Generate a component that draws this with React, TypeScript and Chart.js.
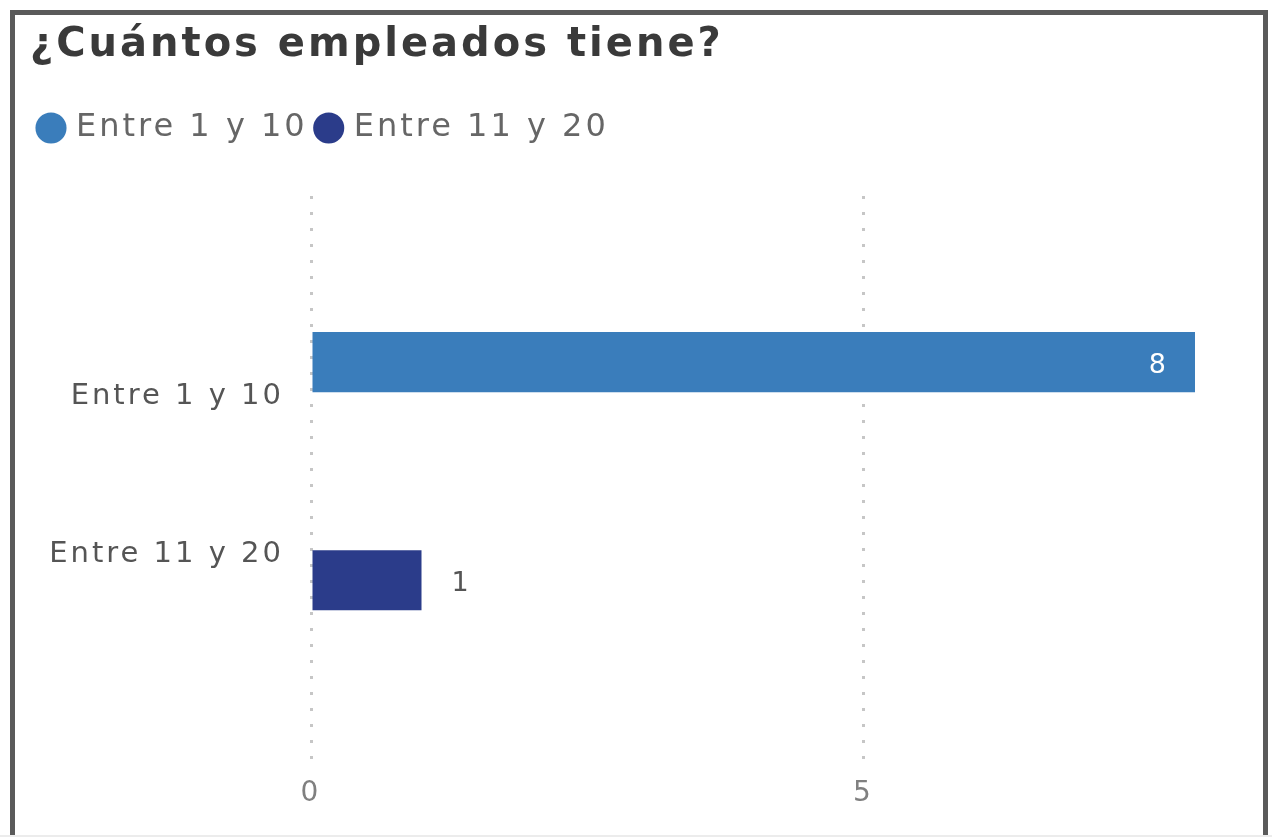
import React, { useEffect, useRef } from 'react';
import { Chart, registerables } from 'chart.js';

Chart.register(...registerables);

const titleText = '¿Cuántos empleados tiene?';
const categories = ['Entre 1 y 10', 'Entre 11 y 20'];
const seriesNames = ['Entre 1 y 10', 'Entre 11 y 20'];
const seriesValues = [8, 1];
const seriesColors = ['#3a7dbb', '#2b3c8a'];
const xTickValues = [0, 5];

const FONT = "'DejaVu Sans', sans-serif";

const spacingPlugin = {
  id: 'letterSpacing',
  beforeUpdate(chart: any) {
    chart.ctx.letterSpacing = '3px';
  },
  beforeDraw(chart: any) {
    chart.ctx.letterSpacing = '3px';
  },
};

const valueLabels = {
  id: 'valueLabels',
  afterDatasetsDraw(chart: any) {
    const ctx = chart.ctx;
    ctx.save();
    ctx.font = `27px ${FONT}`;
    ctx.textBaseline = 'middle';
    chart.data.datasets.forEach((ds: any, di: number) => {
      const meta = chart.getDatasetMeta(di);
      meta.data.forEach((bar: any, i: number) => {
        const raw = ds.data[i];
        if (!raw) return;
        const v = raw.x;
        const { x, y, base } = bar.getProps(['x', 'y', 'base'], true);
        if (x - base > 120) {
          ctx.fillStyle = '#ffffff';
          ctx.textAlign = 'right';
          ctx.fillText(String(v), x - 26, y + 4);
        } else {
          ctx.fillStyle = '#555555';
          ctx.textAlign = 'left';
          ctx.fillText(String(v), x + 30, y + 4);
        }
      });
    });
    ctx.restore();
  },
};

export default function App() {
  const canvasRef = useRef<HTMLCanvasElement | null>(null);

  useEffect(() => {
    const canvas = canvasRef.current;
    if (!canvas) return;
    Chart.defaults.font.family = FONT;

    const datasets = seriesNames.map((name, i) => ({
      label: name,
      data: [{ x: seriesValues[i], y: categories.indexOf(name) }],
      backgroundColor: seriesColors[i],
      categoryPercentage: 0.76,
      barPercentage: 1,
    }));

    const chart = new Chart(canvas, {
      type: 'bar',
      data: { datasets },
      plugins: [spacingPlugin, valueLabels],
      options: {
        indexAxis: 'y',
        responsive: false,
        animation: false,
        events: [],
        layout: { padding: { left: 30, right: 77, top: 10, bottom: 15 } },
        scales: {
          x: {
            type: 'linear',
            min: 0,
            max: 8,
            afterBuildTicks: (s: any) => {
              s.ticks = xTickValues.map((v) => ({ value: v }));
            },
            ticks: { color: '#808080', font: { size: 28 }, padding: 11 },
            grid: { color: '#c6c6c6', lineWidth: 3, drawTicks: false },
            border: { display: false, dash: [3, 13] },
          },
          y: {
            type: 'linear',
            reverse: true,
            offset: false,
            min: -1.2405,
            max: 2.367,
            afterBuildTicks: (s: any) => {
              s.ticks = categories.map((_, i) => ({ value: i }));
            },
            afterFit: (s: any) => {
              s.width = 281;
              s.paddingTop = 0;
              s.paddingBottom = 0;
            },
            ticks: {
              callback: (v: any) => categories[v] ?? '',
              color: '#555555',
              font: { size: 29 },
              padding: 27,
              labelOffset: 4,
            },
            grid: { display: false, drawTicks: false },
            border: { display: false },
          },
        },
        plugins: {
          title: {
            display: true,
            text: titleText,
            align: 'start',
            color: '#3a3a3a',
            font: { size: 40, weight: 'bold', lineHeight: 1.2 },
            padding: { top: 12, bottom: 30 },
          },
          legend: {
            display: true,
            position: 'top',
            align: 'start',
            labels: {
              usePointStyle: true,
              pointStyle: 'circle',
              boxWidth: 18,
              boxHeight: 22,
              padding: 12,
              color: '#666666',
              font: { size: 32 },
            },
          },
          subtitle: {
            display: true,
            text: '',
            weight: 500,
            font: { size: 35, lineHeight: 1.2 },
            padding: 0,
          },
          tooltip: { enabled: false },
        },
      } as any,
    });
    return () => chart.destroy();
  }, []);

  return (
    <div style={{ position: 'fixed', left: 0, top: 0, width: 1272, height: 837, background: '#ffffff', overflow: 'hidden' }}>
      <canvas ref={canvasRef} width={1272} height={837} style={{ position: 'absolute', left: 0, top: 0, width: 1272, height: 837 }} />
      <div
        style={{
          position: 'absolute',
          left: 10,
          top: 10,
          width: 1248,
          height: 900,
          borderTop: '5px solid #5a5a5a',
          borderLeft: '5px solid #5a5a5a',
          borderRight: '5px solid #5a5a5a',
          pointerEvents: 'none',
        }}
      />
      <div style={{ position: 'absolute', left: 0, top: 835, width: 1272, height: 2, background: '#ececec' }} />
    </div>
  );
}
